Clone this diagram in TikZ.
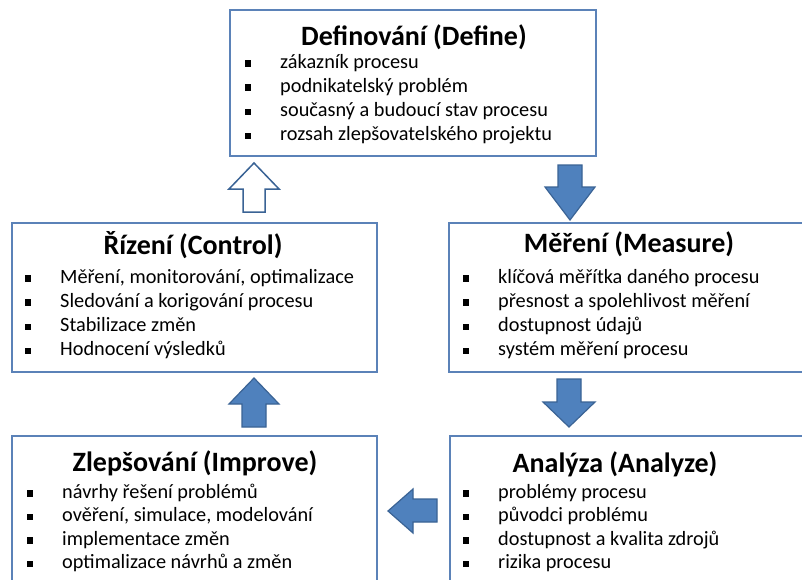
\documentclass[tikz,border=0pt]{standalone}
\usepackage{fontspec}
\setmainfont{Carlito}
\definecolor{boxline}{HTML}{5B82B8}
\definecolor{arrowfill}{HTML}{4F81BD}
\definecolor{arrowline}{HTML}{3A6395}
% small black square used as the list bullet
\newcommand\sqbul{\makebox[0pt][r]{\rule[1.5pt]{6pt}{6.5pt}\hspace{29pt}}}
\begin{document}
\begin{tikzpicture}[x=1pt,y=-1pt,
  phase/.style={draw=boxline, line width=2pt, fill=white, inner sep=0pt},
  heading/.style={font=\fontsize{28}{33}\selectfont\bfseries, inner sep=0pt, anchor=base},
  entry/.style={font=\fontsize{20.3}{24}\selectfont, inner sep=0pt, anchor=base west},
  blockarrow/.style={fill=arrowfill, draw=arrowline, line width=1.2pt, line join=miter},
  hollowarrow/.style={fill=white, draw=arrowline, line width=1.5pt, line join=miter}]
\useasboundingbox (0,0) rectangle (802,579);
\clip (0,0) rectangle (802,579);
\fill[white] (0,0) rectangle (802,579);

% the five DMAIC phases
\node[phase, minimum width=366pt, minimum height=146pt] (def) at (413,83) {};
\node[phase, minimum width=365pt, minimum height=149pt] (ctl) at (194.5,297.5) {};
\node[phase, minimum width=365pt, minimum height=149pt] (mea) at (631.5,297.5) {};
\node[phase, minimum width=365pt, minimum height=164pt] (imp) at (194.5,518) {};
\node[phase, minimum width=365pt, minimum height=164pt] (ana) at (632.5,518) {};

% headings
\node[heading] (def-t) at (414,45) {Definování (Define)};
\node[heading] (ctl-t) at (193,254) {Řízení (Control)};
\node[heading] (mea-t) at (629,252) {Měření (Measure)};
\node[heading] (imp-t) at (195,471) {Zlepšování (Improve)};
\node[heading] (ana-t) at (615,472) {Analýza (Analyze)};

% bullet lists
\foreach \txt [count=\k from 0] in {zákazník procesu, podnikatelský problém,
    současný a budoucí stav procesu, rozsah zlepšovatelského projektu}
  \node[entry] (def-\k) at (280,68+24.3*\k) {\sqbul\txt};
\foreach \txt [count=\k from 0] in {{Měření, monitorování, optimalizace},
    Sledování a korigování procesu, Stabilizace změn, Hodnocení výsledků}
  \node[entry] (ctl-\k) at (60,283+24.3*\k) {\sqbul\txt};
\foreach \txt [count=\k from 0] in {klíčová měřítka daného procesu,
    přesnost a spolehlivost měření, dostupnost údajů, systém měření procesu}
  \node[entry] (mea-\k) at (498,283+24.3*\k) {\sqbul\txt};
\foreach \txt [count=\k from 0] in {návrhy řešení problémů,
    {ověření, simulace, modelování}, implementace změn, optimalizace návrhů a změn}
  \node[entry] (imp-\k) at (62,498+23.6*\k) {\sqbul\txt};
\foreach \txt [count=\k from 0] in {problémy procesu, původci problému,
    dostupnost a kvalita zdrojů, rizika procesu}
  \node[entry] (ana-\k) at (498,498+23.6*\k) {\sqbul\txt};

% block arrows between the phases
\draw[hollowarrow] (243,212) -- (243,189) -- (229,189) -- (254,163) -- (279,189)
  -- (265,189) -- (265,212) -- cycle;
\draw[blockarrow] (558,165) -- (582,165) -- (582,187) -- (595,187) -- (570,220)
  -- (545,187) -- (558,187) -- cycle;
\draw[blockarrow] (557,379) -- (581,379) -- (581,402) -- (595,402) -- (569,427)
  -- (543,402) -- (557,402) -- cycle;
\draw[blockarrow] (437,499) -- (437,522) -- (413,522) -- (413,533) -- (388,511)
  -- (413,489) -- (413,499) -- cycle;
\draw[blockarrow] (242,427) -- (242,404) -- (229,404) -- (254,378) -- (279,404)
  -- (266,404) -- (266,427) -- cycle;
\end{tikzpicture}
\end{document}
